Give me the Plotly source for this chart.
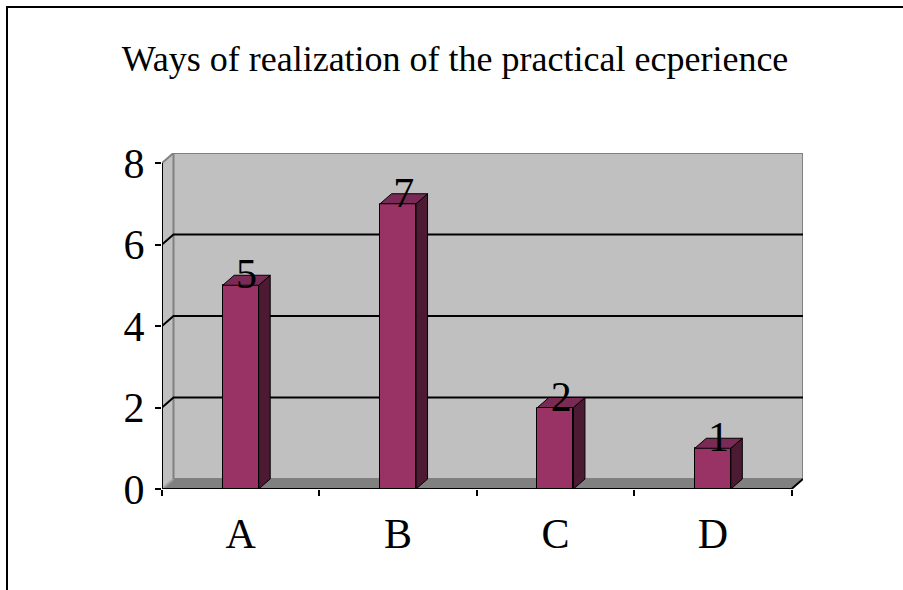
import plotly.graph_objects as go

# ---- data ----
categories = ["A", "B", "C", "D"]
values = [5, 7, 2, 1]
y_ticks = [0, 2, 4, 6, 8]
title_text = "Ways of realization of the practical ecperience"

# ---- layout geometry ----
W, H = 903, 590
ml, mr, mt, mb = 162, 100, 153, 101
plot_w = W - ml - mr
plot_h = H - mt - mb
DX_PX, DY_PX = 11.5, 10.0
xmin, xmax_front = -0.5, len(categories) - 0.5
ymax_front = 8
dxu = DX_PX / ((plot_w - DX_PX) / (xmax_front - xmin))
dyu = DY_PX / ((plot_h - DY_PX) / ymax_front)
x_range = [xmin, xmax_front + dxu]
y_range = [0, ymax_front + dyu]
bw = 36 / ((plot_w - DX_PX) / (xmax_front - xmin))

FRONT = "#993366"
TOP = "#7A2B55"
SIDE = "#4D1A33"
WALL = "#C0C0C0"
FLOOR = "#808080"
EDGE = "#808080"
FONT = "Liberation Serif"

xs = list(range(len(categories)))

fig = go.Figure()

# front faces of bars
fig.add_trace(go.Bar(
    x=xs, y=values, width=bw, base=0,
    marker=dict(color=FRONT, line=dict(color="black", width=1)),
    hoverinfo="skip", showlegend=False,
))

# side and top faces (3D effect) derived from the data values
for x, v in zip(xs, values):
    r = x + bw / 2
    l = x - bw / 2
    fig.add_trace(go.Scatter(
        x=[r, r + dxu, r + dxu, r, r], y=[0, dyu, v + dyu, v, 0],
        mode="lines", fill="toself", fillcolor=SIDE,
        line=dict(color="black", width=1), hoverinfo="skip", showlegend=False,
    ))
    fig.add_trace(go.Scatter(
        x=[l, r, r + dxu, l + dxu, l], y=[v, v, v + dyu, v + dyu, v],
        mode="lines", fill="toself", fillcolor=TOP,
        line=dict(color="black", width=1), hoverinfo="skip", showlegend=False,
    ))

# data labels
fig.add_trace(go.Scatter(
    x=[x + dxu / 2 for x in xs], y=[v + dyu * 0.75 for v in values],
    text=[str(v) for v in values], mode="text", textposition="middle center",
    textfont=dict(family=FONT, size=42, color="black"),
    hoverinfo="skip", showlegend=False,
))

shapes = []
# left side wall
shapes.append(dict(type="path", xref="x", yref="y", layer="below",
                   path=f"M {xmin},0 L {xmin},{ymax_front} L {xmin+dxu},{ymax_front+dyu} L {xmin+dxu},{dyu} Z",
                   fillcolor=WALL, line=dict(width=0)))
# back wall
shapes.append(dict(type="rect", xref="x", yref="y", layer="below",
                   x0=xmin + dxu, x1=xmax_front + dxu, y0=dyu, y1=ymax_front + dyu,
                   fillcolor=WALL, line=dict(color=EDGE, width=2)))
# floor
shapes.append(dict(type="path", xref="x", yref="y", layer="below",
                   path=f"M {xmin},0 L {xmax_front},0 L {xmax_front+dxu},{dyu} L {xmin+dxu},{dyu} Z",
                   fillcolor=FLOOR, line=dict(color=EDGE, width=1)))
# light edge on the left floor corner
shapes.append(dict(type="line", xref="x", yref="y", layer="below",
                   x0=xmin, y0=0, x1=xmin + dxu, y1=dyu, line=dict(color="#A0A0A0", width=2)))
# gridlines
for t in y_ticks[1:-1]:
    shapes.append(dict(type="path", xref="x", yref="y", layer="below",
                       path=f"M {xmin},{t} L {xmin+dxu},{t+dyu} L {xmax_front+dxu},{t+dyu}",
                       line=dict(color="black", width=2)))
# top diagonal of the side wall
shapes.append(dict(type="line", xref="x", yref="y", layer="below",
                   x0=xmin, y0=ymax_front, x1=xmin + dxu, y1=ymax_front + dyu,
                   line=dict(color=EDGE, width=2)))
# front value axis
shapes.append(dict(type="line", xref="x", yref="y", layer="below",
                   x0=xmin, y0=0, x1=xmin, y1=ymax_front, line=dict(color="black", width=2)))
# front category axis
shapes.append(dict(type="path", xref="x", yref="y", layer="below",
                   path=f"M {xmin},0 L {xmax_front},0 L {xmax_front+dxu},{dyu}",
                   line=dict(color="black", width=2)))

# outer chart frame (extends beyond the window on the right and bottom)
def px_to_paper_x(px):
    return (px - ml) / plot_w

def px_to_paper_y(py):
    return (H - mb - py) / plot_h

shapes.append(dict(type="rect", xref="paper", yref="paper", layer="above",
                   x0=px_to_paper_x(7), x1=px_to_paper_x(W + 20),
                   y0=px_to_paper_y(H + 20), y1=px_to_paper_y(7),
                   line=dict(color="black", width=2), fillcolor="rgba(0,0,0,0)"))

fig.update_layout(
    width=W, height=H,
    margin=dict(l=ml, r=mr, t=mt, b=mb, pad=0),
    paper_bgcolor="white", plot_bgcolor="white",
    showlegend=False,
    shapes=shapes,
    title=dict(text=title_text, font=dict(family=FONT, size=36, color="black"),
               x=455 / W, xref="container", xanchor="center",
               y=1 - 58 / H, yref="container", yanchor="middle"),
    xaxis=dict(range=x_range, tickvals=xs, ticktext=categories, ticks="",
               showgrid=False, zeroline=False, showline=False,
               tickfont=dict(family=FONT, size=42, color="black"),
               ticklabelstandoff=16,
               minor=dict(tickvals=[i - 0.5 for i in range(len(categories) + 1)],
                          ticks="outside", ticklen=6, tickwidth=2, tickcolor="black",
                          showgrid=False),
               fixedrange=True),
    yaxis=dict(range=y_range, tickvals=y_ticks, ticks="outside", ticklen=6,
               tickwidth=2, tickcolor="black",
               showgrid=False, zeroline=False, showline=False,
               tickfont=dict(family=FONT, size=42, color="black"),
               ticklabelstandoff=2, fixedrange=True),
    bargap=0,
)

fig.write_html("out.html", config={"displayModeBar": False},
               post_script="document.body.style.margin='0';")
